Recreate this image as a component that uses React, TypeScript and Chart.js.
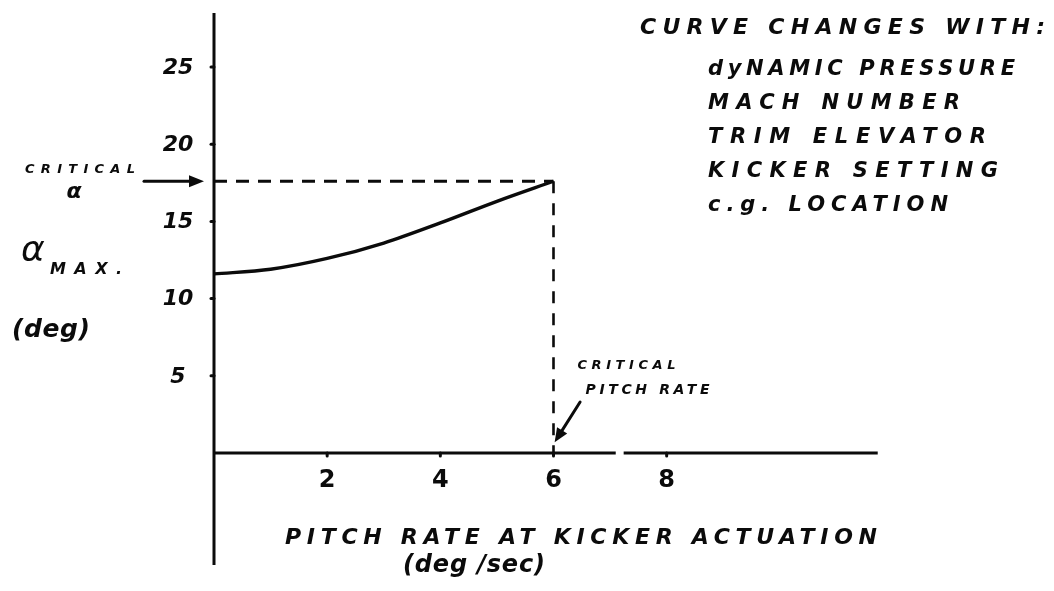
import React, { useEffect, useRef } from "react";
import { Chart, registerables } from "chart.js";

Chart.register(...registerables);

// ---- data ----
const pitchRate = [0, 1, 2, 3, 4, 5, 6];
const alphaMax = [11.6, 11.9, 12.6, 13.6, 14.9, 16.3, 17.6];
const criticalAlpha = 17.6;
const criticalPitchRate = 6;
const xTicks = [2, 4, 6, 8];
const yTicks = [5, 10, 15, 20, 25];
const xAxisSegments = [
  [0, 7.1],
  [7.24, 11.73],
];
const yAxisExtent = [-7.25, 28.5];
const xLabel = "PITCH RATE AT KICKER ACTUATION";
const xUnit = "(deg /sec)";
const yLabelSymbol = "α";
const yLabelSub = "MAX.";
const yUnit = "(deg)";
const criticalAlphaLabel = ["CRITICAL", "α"];
const criticalRateLabel = ["CRITICAL", "PITCH RATE"];
const noteTitle = "CURVE CHANGES WITH:";
const noteItems = [
  "dyNAMIC PRESSURE",
  "MACH NUMBER",
  "TRIM ELEVATOR",
  "KICKER SETTING",
  "c.g. LOCATION",
];

const INK = "#0b0b0b";
const FONT = '"DejaVu Sans", "Liberation Sans", sans-serif';

function drawFit(
  ctx: CanvasRenderingContext2D,
  text: string,
  left: number,
  cy: number,
  width: number,
  size: number,
  style = "italic bold"
) {
  ctx.save();
  ctx.font = `${style} ${size}px ${FONT}`;
  (ctx as any).letterSpacing = "0px";
  const w = ctx.measureText(text).width;
  const n = Array.from(text).length;
  const sp = n > 1 ? (width - w) / (n - 1) : 0;
  (ctx as any).letterSpacing = `${sp}px`;
  ctx.fillStyle = INK;
  ctx.textAlign = "left";
  ctx.textBaseline = "middle";
  ctx.fillText(text, left, cy);
  ctx.restore();
}

function drawCenter(
  ctx: CanvasRenderingContext2D,
  text: string,
  cx: number,
  cy: number,
  size: number,
  style = "italic bold"
) {
  ctx.save();
  ctx.font = `${style} ${size}px ${FONT}`;
  ctx.fillStyle = INK;
  ctx.textAlign = "center";
  ctx.textBaseline = "middle";
  ctx.fillText(text, cx, cy);
  ctx.restore();
}

function arrow(
  ctx: CanvasRenderingContext2D,
  x1: number,
  y1: number,
  x2: number,
  y2: number,
  head = 14,
  half = 6
) {
  const ang = Math.atan2(y2 - y1, x2 - x1);
  ctx.save();
  ctx.strokeStyle = INK;
  ctx.fillStyle = INK;
  ctx.lineWidth = 3;
  ctx.lineCap = "round";
  ctx.beginPath();
  ctx.moveTo(x1, y1);
  ctx.lineTo(x2 - Math.cos(ang) * head * 0.6, y2 - Math.sin(ang) * head * 0.6);
  ctx.stroke();
  ctx.beginPath();
  ctx.moveTo(x2, y2);
  ctx.lineTo(
    x2 - Math.cos(ang) * head + Math.sin(ang) * half,
    y2 - Math.sin(ang) * head - Math.cos(ang) * half
  );
  ctx.lineTo(
    x2 - Math.cos(ang) * head - Math.sin(ang) * half,
    y2 - Math.sin(ang) * head + Math.cos(ang) * half
  );
  ctx.closePath();
  ctx.fill();
  ctx.restore();
}

const annotations = {
  id: "handAnnotations",
  afterDatasetsDraw(chart: any) {
    const ctx: CanvasRenderingContext2D = chart.ctx;
    const xs = chart.scales.x;
    const ys = chart.scales.y;
    const x0 = xs.getPixelForValue(0);
    const y0 = ys.getPixelForValue(0);

    // tick marks
    ctx.save();
    ctx.strokeStyle = INK;
    ctx.lineWidth = 3;
    ctx.lineCap = "round";
    yTicks.forEach((t) => {
      const py = ys.getPixelForValue(t);
      ctx.beginPath();
      ctx.moveTo(x0 - 3, py);
      ctx.lineTo(x0, py);
      ctx.stroke();
    });
    xTicks.forEach((t) => {
      const px = xs.getPixelForValue(t);
      ctx.beginPath();
      ctx.moveTo(px, y0);
      ctx.lineTo(px, y0 + 3);
      ctx.stroke();
    });
    ctx.restore();

    // tick labels
    yTicks.forEach((t) => {
      drawCenter(ctx, String(t), x0 - 36, ys.getPixelForValue(t) + 1, 22);
    });
    xTicks.forEach((t) => {
      drawCenter(ctx, String(t), xs.getPixelForValue(t), y0 + 28, 24, "bold");
    });

    // axis titles
    drawFit(ctx, yLabelSymbol, 21, 252, 30, 36, "italic");
    drawFit(ctx, yLabelSub, 50, 270, 72, 16);
    drawFit(ctx, yUnit, 12, 330, 78, 25);
    drawFit(ctx, xLabel, 285, 538, 592, 22);
    drawFit(ctx, xUnit, 403, 566, 142, 24);

    // critical alpha label + arrow
    const pyA = ys.getPixelForValue(criticalAlpha);
    drawFit(ctx, criticalAlphaLabel[0], 25, pyA - 12, 110, 13);
    drawCenter(ctx, criticalAlphaLabel[1], 74, pyA + 11, 22, "italic bold");
    arrow(ctx, x0 - 70, pyA, x0 - 10, pyA, 15, 6);

    // critical pitch rate label + arrow
    const pxR = xs.getPixelForValue(criticalPitchRate);
    drawFit(ctx, criticalRateLabel[0], pxR + 24, 366, 98, 13);
    drawFit(ctx, criticalRateLabel[1], pxR + 32, 390, 124, 14);
    arrow(
      ctx,
      xs.getPixelForValue(criticalPitchRate + 0.47),
      ys.getPixelForValue(3.3),
      xs.getPixelForValue(criticalPitchRate + 0.02),
      ys.getPixelForValue(0.7),
      14,
      6
    );

    // note block
    drawFit(ctx, noteTitle, 640, 28, 405, 22);
    const widths = [307, 252, 278, 290, 240];
    noteItems.forEach((s, i) => {
      drawFit(ctx, s, 708, 70 + i * 34, widths[i], 21);
    });
  },
};

export default function App() {
  const ref = useRef<HTMLCanvasElement | null>(null);

  useEffect(() => {
    if (!ref.current) return;
    const line = (data: { x: number; y: number }[], extra: any = {}) => ({
      data,
      borderColor: INK,
      borderWidth: 3,
      pointRadius: 0,
      fill: false,
      clip: false as any,
      tension: 0,
      ...extra,
    });

    const chart = new Chart(ref.current, {
      type: "line",
      data: {
        datasets: [
          line(
            pitchRate.map((x, i) => ({ x, y: alphaMax[i] })),
            { cubicInterpolationMode: "monotone", borderWidth: 3.4 }
          ),
          line(
            [
              { x: 0, y: criticalAlpha },
              { x: criticalPitchRate, y: criticalAlpha },
            ],
            { borderDash: [13, 9], borderWidth: 3 }
          ),
          line(
            [
              { x: criticalPitchRate, y: criticalAlpha },
              { x: criticalPitchRate, y: 0 },
            ],
            { borderDash: [12, 10], borderWidth: 2.6 }
          ),
          line(
            [
              { x: 0, y: yAxisExtent[0] },
              { x: 0, y: yAxisExtent[1] },
            ],
            { borderWidth: 3 }
          ),
          ...xAxisSegments.map((seg) =>
            line(
              [
                { x: seg[0], y: 0 },
                { x: seg[1], y: 0 },
              ],
              { borderWidth: 3 }
            )
          ),
        ],
      },
      options: {
        responsive: false,
        animation: false,
        devicePixelRatio: 1,
        layout: { padding: { left: 214, right: 161, top: 5.24, bottom: 14.48 } },
        plugins: {
          legend: { display: false },
          tooltip: { enabled: false },
        },
        scales: {
          x: { type: "linear", min: 0, max: 12, display: false },
          y: { type: "linear", min: -8, max: 29, display: false },
        },
      },
      plugins: [annotations],
    });
    return () => chart.destroy();
  }, []);

  return (
    <div
      style={{
        position: "fixed",
        left: 0,
        top: 0,
        width: 1054,
        height: 591,
        background: "#ffffff",
      }}
    >
      <canvas ref={ref} width={1054} height={591} style={{ display: "block" }} />
    </div>
  );
}
